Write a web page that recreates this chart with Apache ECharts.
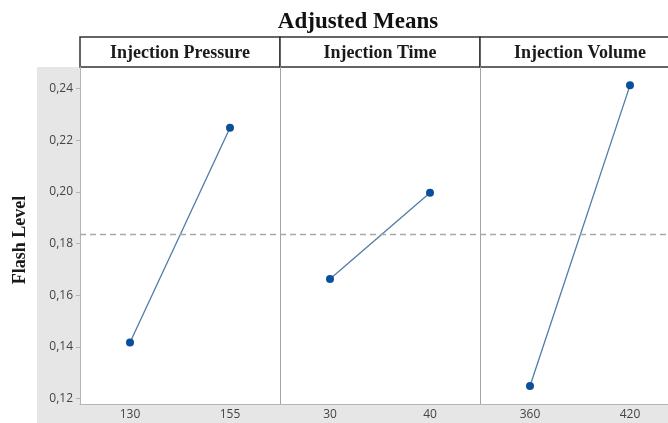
<!DOCTYPE html>
<html>
<head>
<meta charset="utf-8">
<script src="https://cdn.jsdelivr.net/npm/echarts@6/dist/echarts.min.js"></script>
<style>
	html, body { margin: 0; padding: 0; background: #fff; overflow: hidden; }
	#main { width: 682px; height: 423px; }
</style>
</head>
<body>
<div id="main"></div>
<script>
'use strict';

// 数据
var factors = ['Injection Pressure', 'Injection Time', 'Injection Volume'];
var pressureLevels = ['130', '155'];
var timeLevels = ['30', '40'];
var volumeLevels = ['360', '420'];
var pressureMeans = [0.1417, 0.2249];
var timeMeans = [0.1663, 0.1997];
var volumeMeans = [0.1249, 0.2413];
var grandMean = 0.1835;
var yTicks = [0.12, 0.14, 0.16, 0.18, 0.20, 0.22, 0.24];

var levels = [pressureLevels, timeLevels, volumeLevels];
var means = [pressureMeans, timeMeans, volumeMeans];

var serif = '"Liberation Serif", "DejaVu Serif", serif';
var sans = '"Open Sans", "Noto Sans", sans-serif';

var myChart = echarts.init(document.getElementById('main'));

var grids = [], xAxes = [], yAxes = [], series = [], graphics = [];

// 灰色背景
graphics.push({
	type: 'rect',
	z: -100,
	shape: { x: 37, y: 67, width: 645, height: 356 },
	style: { fill: '#e6e6e6' }
});

for (var i = 0; i < factors.length; i++) {
	var left = 80 + i * 200;

	grids.push({
		left: left,
		top: 67,
		width: 200,
		height: 337,
		show: true,
		backgroundColor: '#fff',
		borderWidth: 0
	});

	xAxes.push({
		type: 'category',
		gridIndex: i,
		data: levels[i],
		boundaryGap: true,
		axisLine: { lineStyle: { color: '#b4b4b4', width: 1 } },
		axisTick: { alignWithLabel: true, length: 4, lineStyle: { color: '#b4b4b4' } },
		axisLabel: { color: '#444', fontFamily: sans, fontSize: 12, margin: 5 },
		splitLine: { show: false }
	});

	yAxes.push({
		type: 'value',
		gridIndex: i,
		min: 0.1179,
		max: 0.2484,
		axisLine: { show: true, lineStyle: { color: i == 0 ? '#b4b4b4' : '#a4a4a4', width: 1 } },
		axisTick: { show: i == 0, length: 4, customValues: yTicks, lineStyle: { color: '#b4b4b4' } },
		axisLabel: {
			show: i == 0,
			customValues: yTicks,
			color: '#444',
			fontFamily: sans,
			fontSize: 12,
			margin: 7,
			formatter: function (v) { return v.toFixed(2).replace('.', ','); }
		},
		splitLine: { show: false }
	});

	series.push({
		type: 'line',
		xAxisIndex: i,
		yAxisIndex: i,
		data: means[i],
		symbol: 'circle',
		symbolSize: 8,
		itemStyle: { color: '#0a4f9c' },
		lineStyle: { color: '#4f7ca8', width: 1.3 },
		markLine: {
			silent: true,
			symbol: 'none',
			precision: 4,
			label: { show: false },
			lineStyle: { color: '#a8a8a8', type: [6, 4], width: 1.3 },
			data: [{ yAxis: grandMean }]
		}
	});

	// 标题栏
	graphics.push({
		type: 'rect',
		shape: { x: left, y: 37, width: 200, height: 30 },
		style: { fill: '#fff', stroke: '#333', lineWidth: 1.5 }
	});
	graphics.push({
		type: 'text',
		x: left + 100,
		y: 53,
		style: {
			text: factors[i],
			fill: '#1a1a1a',
			font: 'bold 18px ' + serif,
			textAlign: 'center',
			textVerticalAlign: 'middle'
		}
	});
}

graphics.push({
	type: 'text',
	x: 358,
	y: 22,
	style: {
		text: 'Adjusted Means',
		fill: '#111',
		font: 'bold 23px ' + serif,
		textAlign: 'center',
		textVerticalAlign: 'middle'
	}
});

graphics.push({
	type: 'text',
	x: 20,
	y: 240,
	rotation: Math.PI / 2,
	style: {
		text: 'Flash Level',
		fill: '#1a1a1a',
		font: 'bold 18px ' + serif,
		textAlign: 'center',
		textVerticalAlign: 'middle'
	}
});

myChart.setOption({
	animation: false,
	grid: grids,
	xAxis: xAxes,
	yAxis: yAxes,
	series: series,
	graphic: graphics
});
</script>
</body>
</html>
